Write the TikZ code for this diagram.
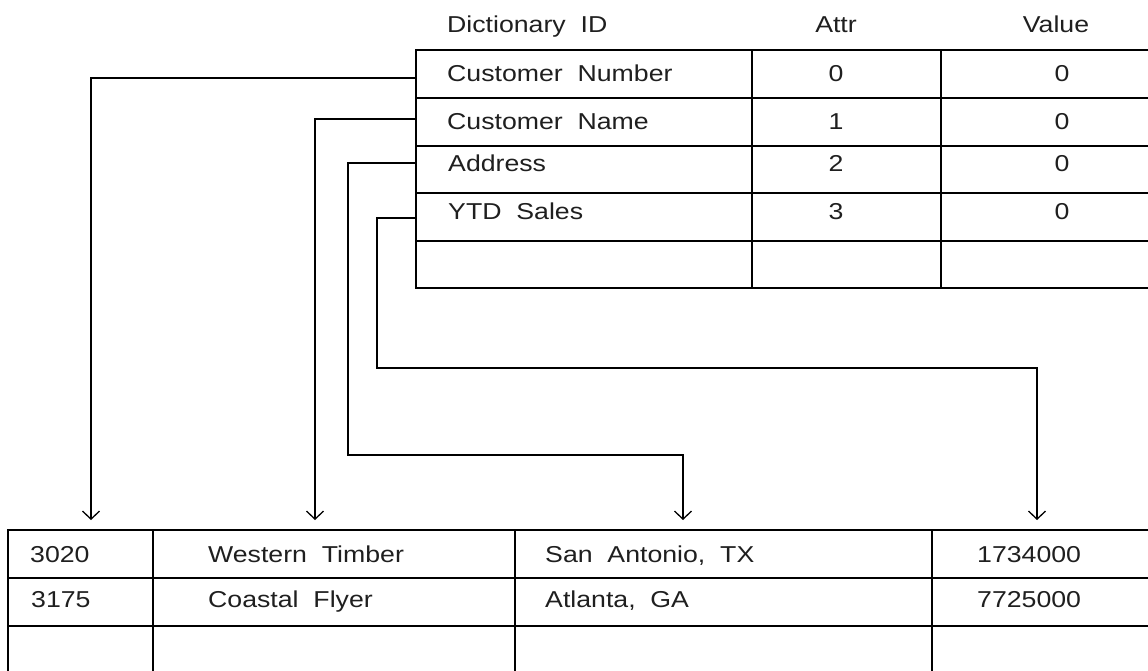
\documentclass[tikz,border=0pt]{standalone}
\usepackage{fontspec}
\setmainfont{Liberation Sans}[FakeStretch=1.16,WordSpace=2]
\usetikzlibrary{arrows.meta}
\begin{document}
\begin{tikzpicture}[x=1pt,y=-1pt,
  grid/.style={line width=1.7pt,line cap=rect},
  conn/.style={line width=1.6pt},
  arr/.style={conn,-{Straight Barb[length=8pt,width=17pt,line width=1.3pt]}},
  txt/.style={inner sep=0pt,text=black!88,font=\fontsize{23}{23}\selectfont}]
\useasboundingbox (0,0) rectangle (1148,671);
\clip (0,0) rectangle (1148,671);

% ---------- top dictionary table ----------
\draw[grid] (1170,50) -- (416,50) -- (416,288) -- (1170,288);
\foreach \yy in {98,146,193,241} \draw[grid] (416,\yy) -- (1170,\yy);
\draw[grid] (752,50) -- (752,288);
\draw[grid] (941,50) -- (941,288);

\node[txt,anchor=base west] (hdict) at (447,33) {Dictionary ID};
\node[txt,anchor=base] (hattr) at (836,33) {Attr};
\node[txt,anchor=base] (hval) at (1056,33) {Value};

\node[txt,anchor=base west] (d1) at (447,82) {Customer Number};
\node[txt,anchor=base west] (d2) at (447,130) {Customer Name};
\node[txt,anchor=base west] (d3) at (448,172) {Address};
\node[txt,anchor=base west] (d4) at (448,219) {YTD Sales};

\node[txt,anchor=base] (a1) at (836,82) {0};
\node[txt,anchor=base] (a2) at (836,130) {1};
\node[txt,anchor=base] (a3) at (836,172) {2};
\node[txt,anchor=base] (a4) at (836,219) {3};

\node[txt,anchor=base] (v1) at (1062,82) {0};
\node[txt,anchor=base] (v2) at (1062,130) {0};
\node[txt,anchor=base] (v3) at (1062,172) {0};
\node[txt,anchor=base] (v4) at (1062,219) {0};

% ---------- bottom data table ----------
\draw[grid] (8,700) -- (8,530) -- (1170,530);
\draw[grid] (8,578) -- (1170,578);
\draw[grid] (8,626) -- (1170,626);
\draw[grid] (153,530) -- (153,700);
\draw[grid] (515,530) -- (515,700);
\draw[grid] (932,530) -- (932,700);

\node[txt,anchor=base west] (r11) at (30,562) {3020};
\node[txt,anchor=base west] (r12) at (208,562) {Western Timber};
\node[txt,anchor=base west] (r13) at (545,562) {San Antonio, TX};
\node[txt,anchor=base west] (r14) at (977,562) {1734000};
\node[txt,anchor=base west] (r21) at (31,607) {3175};
\node[txt,anchor=base west] (r22) at (208,607) {Coastal Flyer};
\node[txt,anchor=base west] (r23) at (545,607) {Atlanta, GA};
\node[txt,anchor=base west] (r24) at (977,607) {7725000};

% ---------- connectors ----------
\coordinate (s1) at (416,78);
\coordinate (s2) at (416,119);
\coordinate (s3) at (416,163);
\coordinate (s4) at (416,218);
\coordinate (k3) at (348,455);
\coordinate (k4) at (377,368);
\coordinate (t1) at (91,520);
\coordinate (t2) at (315,520);
\coordinate (t3) at (683,520);
\coordinate (t4) at (1037,520);

\draw[arr] (s1) -| (t1);
\draw[arr] (s2) -| (t2);
\draw[arr] (s3) -| (k3) -| (t3);
\draw[arr] (s4) -| (k4) -| (t4);
\end{tikzpicture}
\end{document}
